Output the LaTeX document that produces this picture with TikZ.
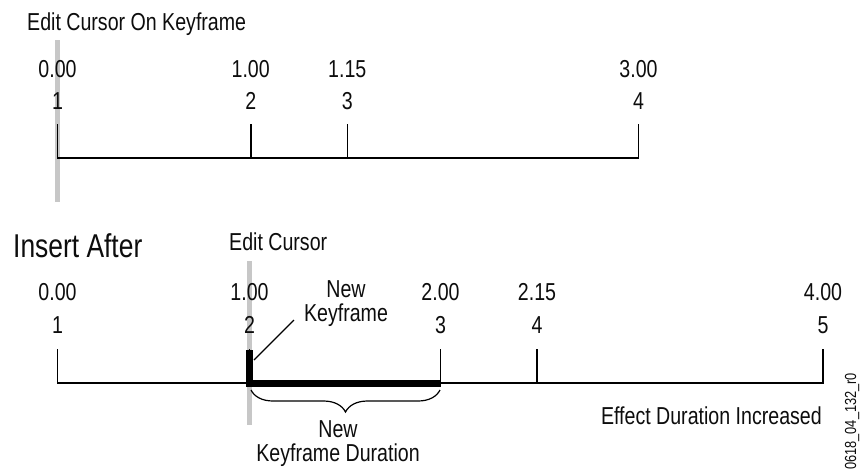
\documentclass[tikz,border=0pt]{standalone}
\usepackage{fontspec}
\setmainfont[FakeStretch=0.8]{Liberation Sans}
\usetikzlibrary{decorations.pathreplacing}

\begin{document}
\begin{tikzpicture}[x=1pt, y=-1pt,
  lbl/.style={font=\fontsize{24.5}{24}\selectfont, text=black!95, anchor=base, inner sep=0pt},
  axis/.style={line width=1.6pt, line cap=rect},
  cursor/.style={line width=5pt, black!22},
  newkey/.style={line width=7pt, line join=miter}
]
\useasboundingbox (0,0) rectangle (861,472);
% edit cursors (behind everything)
\draw[cursor] (57.5,40) -- (57.5,202);
\draw[cursor] (249.5,261) -- (249.5,425);

% top timeline
\node[lbl, anchor=base west] (title) at (27,30) {Edit Cursor On Keyframe};
\foreach \x/\t/\n [count=\i] in {57.5/0.00/1, 250.7/1.00/2, 347.3/1.15/3, 638.5/3.00/4} {
  \coordinate (a\i) at (\x,158);
  \draw[axis] (a\i) -- ++(0,-33);
  \node[lbl] (atime\i) at (\x,77) {\t};
  \node[lbl] (anum\i) at (\x,109) {\n};
}
\draw[axis] (a1) -- (a4);

% bottom timeline
\node[lbl, anchor=base west, font=\fontsize{33}{33}\selectfont] (insert) at (13,257) {Insert After};
\node[lbl, anchor=base west] (cursor) at (229,250) {Edit Cursor};
\foreach \x/\t/\n [count=\i] in {57.5/0.00/1, 249.5/1.00/2, 440.5/2.00/3, 537/2.15/4, 823/4.00/5} {
  \coordinate (b\i) at (\x,383);
  \draw[axis] (b\i) -- ++(0,-33);
  \node[lbl] (btime\i) at (\x,300) {\t};
  \node[lbl] (bnum\i) at (\x,333) {\n};
}
\draw[axis] (b1) -- (b5);
\draw[newkey] (b2) ++(0,-33) -- (b2) -- (b3);

% new keyframe callout
\node[lbl, anchor=north, align=center] (newkey) at (346,280) {New\\Keyframe};
\coordinate (keypt) at (254,360);
\draw[line width=1.2pt] (294,320) -- (keypt);

% duration brace
\draw[line width=1.2pt, decorate, decoration={brace, mirror, amplitude=22pt}] (251,390) -- (440,390);
\node[lbl, anchor=north, align=center] (duration) at (338,420) {New\\Keyframe Duration};

\node[lbl, anchor=base east] (effect) at (822,424) {Effect Duration Increased};
\node[lbl, anchor=west, rotate=90, font=\fontsize{16}{16}\selectfont] (code) at (852,470) {0618\_04\_132\_r0};
\end{tikzpicture}
\end{document}
